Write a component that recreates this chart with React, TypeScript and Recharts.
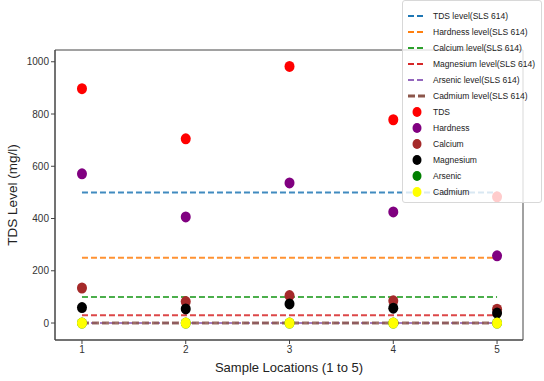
import { ComposedChart, Scatter, Line, XAxis, YAxis, Legend, ReferenceArea } from 'recharts';

const locations = [1, 2, 3, 4, 5];
const tds = [897, 705, 982, 778, 483];
const hardness = [571, 406, 536, 425, 257];
const calcium = [134, 82, 105, 85, 53];
const magnesium = [59, 54, 73, 57, 38];
const arsenic = [0.01, 0.01, 0.01, 0.01, 0.01];
const cadmium = [0, 0, 0, 0, 0];

const limitNames = [
  'TDS level(SLS 614)',
  'Hardness level(SLS 614)',
  'Calcium level(SLS 614)',
  'Magnesium level(SLS 614)',
  'Arsenic level(SLS 614)',
  'Cadmium level(SLS 614)',
];
const limitValues = [500, 250, 100, 30, 0.01, 0.005];
const limitColors = ['#1f77b4', '#ff7f0e', '#2ca02c', '#d62728', '#9467bd', '#8c564b'];
const limitWidths = [2, 2, 2, 2, 2, 3];

const pointNames = ['TDS', 'Hardness', 'Calcium', 'Magnesium', 'Arsenic', 'Cadmium'];
const pointSeries = [tds, hardness, calcium, magnesium, arsenic, cadmium];
const pointColors = ['#ff0000', '#800080', '#a52a2a', '#000000', '#008000', '#ffff00'];

const yTicks = [0, 200, 400, 600, 800, 1000];

const FONT = '"Liberation Sans", Arial, sans-serif';
const X_DOMAIN: [number, number] = [0.74, 5.25];
const Y_DOMAIN: [number, number] = [-65, 1045];

const makeDot = (color: string) => (props: any) => (
  <ellipse cx={props.cx} cy={props.cy} rx={5} ry={5.5} fill={color} />
);

function LegendBox() {
  return (
    <div
      style={{
        background: 'rgba(255,255,255,0.8)',
        border: '1px solid #d8d8d8',
        borderRadius: 3,
        padding: '7px 4px 2px 4px',
        fontFamily: FONT,
        fontSize: 8.5,
        color: '#222',
        whiteSpace: 'nowrap',
      }}
    >
      {limitNames.map((name, i) => (
        <div key={name} style={{ display: 'flex', alignItems: 'center', height: 16 }}>
          <svg width={20} height={8} style={{ marginRight: 6, flexShrink: 0 }}>
            <line
              x1={1}
              y1={4}
              x2={19}
              y2={4}
              stroke={limitColors[i]}
              strokeWidth={limitWidths[i]}
              strokeDasharray={i === 5 ? '7 3' : '6 3'}
            />
          </svg>
          <span>{name}</span>
        </div>
      ))}
      {pointNames.map((name, i) => (
        <div key={name} style={{ display: 'flex', alignItems: 'center', height: 16 }}>
          <svg width={20} height={10} style={{ marginRight: 6, flexShrink: 0 }}>
            <ellipse cx={10} cy={5} rx={4.5} ry={5} fill={pointColors[i]} />
          </svg>
          <span>{name}</span>
        </div>
      ))}
    </div>
  );
}

export default function App() {
  return (
    <div style={{ position: 'absolute', left: 0, top: 0, width: 544, height: 381, background: '#fff' }}>
      <ComposedChart width={544} height={381} margin={{ top: 50, right: 21, bottom: 5, left: 0 }}>
        <XAxis
          type="number"
          dataKey="x"
          domain={X_DOMAIN}
          ticks={locations}
          allowDataOverflow
          height={36}
          stroke="#444"
          tickSize={4}
          tick={{ fontSize: 10, fill: '#333', fontFamily: FONT }}
          label={{ value: 'Sample Locations (1 to 5)', position: 'insideBottom', offset: 4, fontSize: 13, fill: '#222', fontFamily: FONT }}
        />
        <YAxis
          type="number"
          dataKey="y"
          domain={Y_DOMAIN}
          ticks={yTicks}
          allowDataOverflow
          width={55}
          stroke="#444"
          tickSize={4}
          tick={{ fontSize: 10, fill: '#333', fontFamily: FONT }}
          label={{ value: 'TDS Level (mg/l)', angle: -90, position: 'insideLeft', offset: 12, style: { textAnchor: 'middle' }, fontSize: 13.5, fill: '#222', fontFamily: FONT }}
        />
        <ReferenceArea x1={X_DOMAIN[0]} x2={X_DOMAIN[1]} y1={Y_DOMAIN[0]} y2={Y_DOMAIN[1]} fill="none" stroke="#444" strokeWidth={1} />
        {pointSeries.map((vals, i) => (
          <Scatter
            key={pointNames[i]}
            name={pointNames[i]}
            data={locations.map((x, j) => ({ x, y: vals[j] }))}
            fill={pointColors[i]}
            shape={makeDot(pointColors[i])}
            isAnimationActive={false}
          />
        ))}
        {limitValues.map((v, i) => (
          <Line
            key={limitNames[i]}
            name={limitNames[i]}
            data={[{ x: locations[0], y: v }, { x: locations[locations.length - 1], y: v }]}
            dataKey="y"
            type="linear"
            stroke={limitColors[i]}
            strokeWidth={limitWidths[i]}
            strokeDasharray={i === 5 ? '7 3' : '6 3'}
            strokeOpacity={0.85}
            dot={false}
            activeDot={false}
            isAnimationActive={false}
          />
        ))}
        <Legend
          layout="vertical"
          align="center"
          verticalAlign="middle"
          content={() => <LegendBox />}
          wrapperStyle={{ position: 'absolute', left: 402, top: 0, width: 140, height: 'auto' }}
        />
      </ComposedChart>
    </div>
  );
}
